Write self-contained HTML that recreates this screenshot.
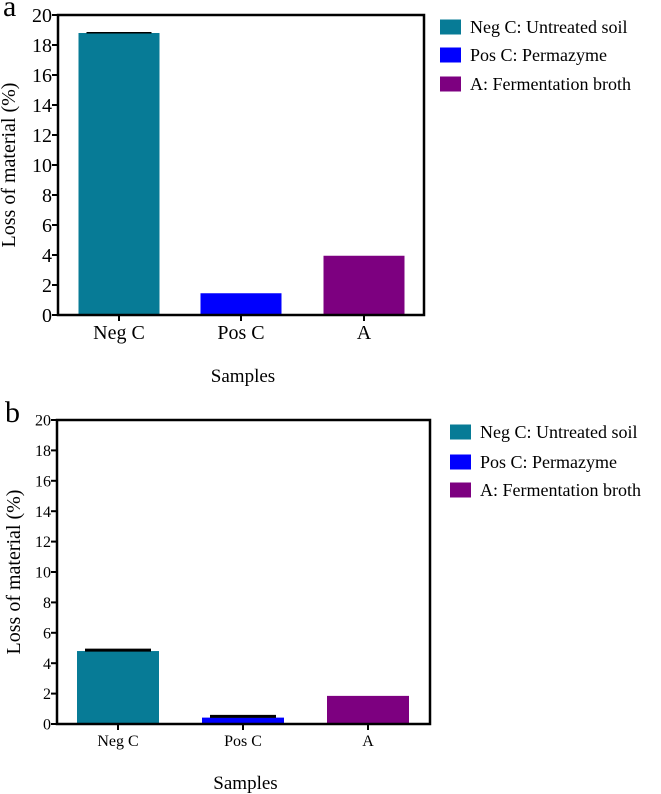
<!DOCTYPE html>
<html><head><meta charset="utf-8"><style>
body{margin:0;background:#fff;font-family:"Liberation Serif",serif;}
svg{display:block;}
svg text{font-family:"Liberation Serif",serif !important;}
</style></head><body>
<svg width="661" height="794" viewBox="0 0 661 794">
<g id="ga"></g>
<g id="gb"></g>
</svg>
<script>
const categories = ["Neg C", "Pos C", "A"];
const valuesA = [18.8, 1.45, 3.95];
const errorsA = [0.02, 0, 0];
const valuesB = [4.8, 0.42, 1.85];
const errorsB = [0.06, 0.08, 0];
const yTicks = [0, 2, 4, 6, 8, 10, 12, 14, 16, 18, 20];
const legendLabels = ["Neg C: Untreated soil", "Pos C: Permazyme", "A: Fermentation broth"];
const colors = ["#077b96", "#0000fe", "#7d0080"];
const NS = "http://www.w3.org/2000/svg";
function mk(parent, tag, attrs, text) {
  const e = document.createElementNS(NS, tag);
  for (const k in attrs) e.setAttribute(k, attrs[k]);
  if (tag === "text") e.setAttribute("style", 'font-family:"Liberation Serif",serif;');
  if (text !== undefined) e.textContent = text;
  parent.appendChild(e);
  return e;
}
function panel(g, cfg, values, errors) {
  const y = v => cfg.y0 - (v / 20) * (cfg.y0 - cfg.y20);
  const x = i => cfg.cx[i];
  let t = mk(g, "text", {x: cfg.letterX, y: cfg.letterY, "font-size": 30}, cfg.letter);
  
  
  values.forEach((v, i) => {
    const r = mk(g, "rect", {x: x(i) - cfg.bw / 2, y: y(v), width: cfg.bw, height: cfg.y0 - y(v), fill: colors[i]});
    
    
    if (errors[i] > 0) {
      const eb = mk(g, "line", {x1: x(i) - cfg.bw / 2 + 8, x2: x(i) + cfg.bw / 2 - 8, y1: y(v + errors[i]), y2: y(v + errors[i]), stroke: "#000", "stroke-width": cfg.ebw});
      
      
    }
    const tk = mk(g, "line", {x1: x(i), x2: x(i), y1: cfg.y0, y2: cfg.y0 + 6, stroke: "#000", "stroke-width": 2});
    
    
    const lb = mk(g, "text", {x: x(i), y: cfg.catY, "text-anchor": "middle", "font-size": cfg.fs}, categories[i]);
    
    
  });
  const frame = mk(g, "path", {d: `M${cfg.x0},${cfg.y20} H${cfg.x1} V${cfg.y0} H${cfg.x0} Z`, fill: "none", stroke: "#000", "stroke-width": 2.5});
  
  
  yTicks.forEach(v => {
    const l = mk(g, "line", {x1: cfg.x0 - 6, x2: cfg.x0, y1: y(v), y2: y(v), stroke: "#000", "stroke-width": 2});
    
    
    const tl = mk(g, "text", {x: cfg.x0 - 6, y: y(v) + cfg.fs * 0.35, "text-anchor": "end", "font-size": cfg.fs}, v);
    
    
  });
  const yl = mk(g, "text", {x: 0, y: 0, "text-anchor": "middle", "font-size": 20, transform: `translate(${cfg.ylX},${(cfg.y0 + cfg.y20) / 2}) rotate(-90)`}, "Loss of material (%)");
  
  
  const xl = mk(g, "text", {x: (cfg.x0 + cfg.x1) / 2 + 2, y: cfg.xlY, "text-anchor": "middle", "font-size": 19}, "Samples");
  
  
  legendLabels.forEach((s, i) => {
    const cy = cfg.legY[i];
    const sw = mk(g, "rect", {x: cfg.legX, y: cy - 7.5, width: 21, height: 15, fill: colors[i]});
    
    
    const lt = mk(g, "text", {x: cfg.legX + 30, y: cy + 6, "font-size": 18}, s);
    
    
  });
}
panel(document.getElementById("ga"), {letter: "a", letterX: 3, letterY: 16, x0: 58, x1: 424, y0: 315, y20: 15, cx: [119, 241, 364], bw: 81, fs: 20, ebw: 1.5, catY: 339, xlY: 382, ylX: 15, legX: 440, legY: [27, 55, 84]}, valuesA, errorsA);
panel(document.getElementById("gb"), {letter: "b", letterX: 5, letterY: 422, x0: 57, x1: 430, y0: 724, y20: 420, cx: [118, 243, 368], bw: 82, fs: 16, ebw: 3, catY: 746, xlY: 789, ylX: 20, legX: 450, legY: [432, 462, 490]}, valuesB, errorsB);
</script>
</body></html>
